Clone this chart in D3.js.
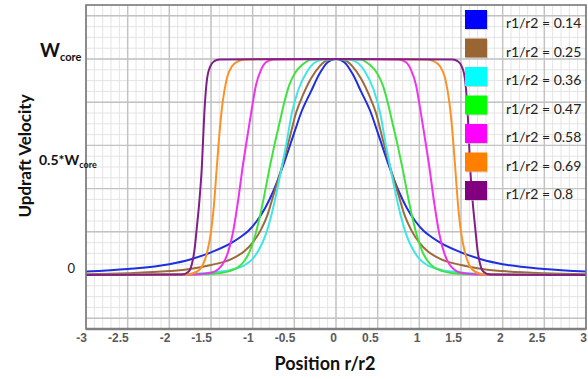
<!DOCTYPE html>
<html>
<head>
<meta charset="utf-8">
<script src="https://cdn.jsdelivr.net/npm/d3@7"></script>
<style>
  html, body { margin: 0; padding: 0; background: #fff; }
  svg { display: block; }
  .tick-label { font-family: 'Liberation Sans', Arial, sans-serif; font-weight: bold; font-size: 12px; fill: #5a5a5a; }
  .axis-title { font-family: Lato, 'Open Sans', sans-serif; font-weight: bold; fill: #111; }
  .legend-label { font-family: Lato, 'Open Sans', sans-serif; font-size: 14px; fill: #222; }
</style>
</head>
<body>
<div id="chart"></div>
<script>
// r1/r2 ratio of each profile
const ratios = [0.14, 0.25, 0.36, 0.47, 0.58, 0.69, 0.8];
const lineColours = ['#1f2fe0', '#9c6b3c', '#3fe6e6', '#3fe33f', '#ee33ee', '#fb9226', '#7f1f87'];
const swatchColours = ['#0000ff', '#996633', '#00ffff', '#00ff00', '#ff00ff', '#ff8000', '#800080'];
const xTicks = [-3, -2.5, -2, -1.5, -1, -0.5, 0, 0.5, 1, 1.5, 2, 2.5, 3];

// half profiles [r/r2, w/Wcore] (curves are symmetric about 0)
const profile014 = [[0, 1], [0.1, 0.985], [0.2, 0.93], [0.3, 0.85], [0.42, 0.75], [0.5, 0.66], [0.65, 0.49],
  [0.75, 0.39], [0.85, 0.31], [0.95, 0.25], [1.05, 0.205], [1.15, 0.175], [1.25, 0.15], [1.5, 0.105],
  [1.75, 0.072], [2, 0.05], [2.5, 0.028], [3, 0.016]];
const profile025 = [[0, 1], [0.1, 0.995], [0.2, 0.965], [0.3, 0.91], [0.4, 0.83], [0.48, 0.75], [0.56, 0.63],
  [0.65, 0.5], [0.75, 0.37], [0.83, 0.27], [0.9, 0.21], [1, 0.15], [1.1, 0.11], [1.25, 0.075], [1.5, 0.046],
  [1.75, 0.028], [2, 0.018], [2.5, 0.008], [3, 0.004]];
const profile036 = [[0, 1], [0.15, 0.998], [0.25, 0.985], [0.35, 0.94], [0.45, 0.86], [0.53, 0.75], [0.59, 0.62],
  [0.65, 0.5], [0.72, 0.37], [0.78, 0.27], [0.85, 0.18], [0.92, 0.12], [1, 0.075], [1.1, 0.045], [1.25, 0.025],
  [1.5, 0.012], [1.75, 0.005], [2, 0.002], [3, 0]];
const profile047 = [[0, 1], [0.3, 0.997], [0.4, 0.975], [0.5, 0.93], [0.56, 0.88], [0.62, 0.8], [0.68, 0.7],
  [0.74, 0.6], [0.8, 0.49], [0.86, 0.37], [0.92, 0.26], [0.98, 0.17], [1.04, 0.105], [1.1, 0.065], [1.18, 0.035],
  [1.28, 0.018], [1.4, 0.008], [1.6, 0.003], [2, 0.001], [3, 0]];
const profile058 = [[0, 1], [0.75, 0.998], [0.84, 0.985], [0.9, 0.95], [0.96, 0.88], [1.01, 0.77], [1.06, 0.65],
  [1.12, 0.5], [1.18, 0.33], [1.24, 0.19], [1.3, 0.1], [1.36, 0.05], [1.43, 0.022], [1.5, 0.01], [1.7, 0.002], [3, 0]];
const profile069 = [[0, 1], [1.1, 0.998], [1.17, 0.99], [1.25, 0.965], [1.31, 0.91], [1.36, 0.8], [1.4, 0.65],
  [1.43, 0.5], [1.47, 0.3], [1.5, 0.2], [1.55, 0.1], [1.6, 0.045], [1.67, 0.015], [1.8, 0.002], [3, 0]];
const profile080 = [[0, 1], [1.4, 0.998], [1.46, 0.99], [1.51, 0.965], [1.55, 0.9], [1.58, 0.75], [1.61, 0.5],
  [1.64, 0.34], [1.67, 0.22], [1.7, 0.11], [1.73, 0.05], [1.77, 0.015], [1.85, 0.002], [3, 0]];

const profiles = [profile014, profile025, profile036, profile047, profile058, profile069, profile080];

const width = 588;
const height = 379;
const margin = { top: 5, right: 2, bottom: 50, left: 86 };

class UpdraftChart {

  /**
   * @param {string} el container selector
   */
  constructor (el) {
    this.svg = d3.select(el).append('svg')
      .attr('width', width)
      .attr('height', height);
    this.x = d3.scaleLinear().domain([-3, 3]).range([margin.left, width - margin.right]);
    this.y = d3.scaleLinear().domain([-0.25, 1.25]).range([height - margin.bottom, margin.top]);
  }

  /**
   * Minor and major grid lines
   */
  drawGrid () {
    const { svg, x, y } = this;
    const [x0, x1] = x.range();
    const [y0, y1] = y.range();
    const g = svg.append('g').attr('class', 'grid');

    g.selectAll('.vminor').data(x.ticks(60)).join('line')
      .attr('x1', (d) => x(d)).attr('x2', (d) => x(d))
      .attr('y1', y0).attr('y2', y1)
      .attr('stroke', '#e4e4e4').attr('stroke-width', 1);
    g.selectAll('.hminor').data(y.ticks(30)).join('line')
      .attr('y1', (d) => y(d)).attr('y2', (d) => y(d))
      .attr('x1', x0).attr('x2', x1)
      .attr('stroke', '#e4e4e4').attr('stroke-width', 1);

    g.append('g').selectAll('line').data(xTicks).join('line')
      .attr('x1', (d) => x(d)).attr('x2', (d) => x(d))
      .attr('y1', y0).attr('y2', y1)
      .attr('stroke', '#c2c2c2').attr('stroke-width', 1.4);
    g.append('g').selectAll('line').data(y.ticks(6)).join('line')
      .attr('y1', (d) => y(d)).attr('y2', (d) => y(d))
      .attr('x1', x0).attr('x2', x1)
      .attr('stroke', '#c2c2c2').attr('stroke-width', 1.4);
  }

  /**
   * Frame, tick labels and titles
   */
  drawAxes () {
    const { svg, x, y } = this;
    const [x0, x1] = x.range();
    const [y0, y1] = y.range();

    svg.append('rect')
      .attr('x', x0).attr('y', y1)
      .attr('width', x1 - x0).attr('height', y0 - y1)
      .attr('fill', 'none').attr('stroke', '#7a7a7a').attr('stroke-width', 1.6);
    svg.append('line')
      .attr('x1', x0).attr('x2', x1).attr('y1', y0).attr('y2', y0)
      .attr('stroke', '#808080').attr('stroke-width', 2.6);

    svg.append('g').selectAll('text').data(xTicks).join('text')
      .attr('class', 'tick-label')
      .attr('x', (d) => x(d) + 1)
      .attr('y', y0 + 13)
      .attr('text-anchor', 'end')
      .text((d) => d);

    // y labels
    const wcore = svg.append('text').attr('class', 'axis-title')
      .attr('x', 40).attr('y', y(1) - 2).style('font-size', '19px');
    wcore.append('tspan').text('W');
    wcore.append('tspan').attr('dy', 4).style('font-size', '11px').text('core');

    const half = svg.append('text').attr('class', 'axis-title')
      .attr('x', 39).attr('y', y(0.5) - 2).style('font-size', '14px');
    half.append('tspan').text('0.5*W');
    half.append('tspan').attr('dy', 3).style('font-size', '9px').text('core');

    svg.append('text')
      .attr('x', 75).attr('y', y(0) - 2)
      .attr('text-anchor', 'end')
      .style('font-family', 'Lato, sans-serif').style('font-size', '13px').style('fill', '#222')
      .text('0');

    svg.append('text').attr('class', 'axis-title')
      .attr('x', 325).attr('y', 370)
      .attr('text-anchor', 'middle')
      .style('font-size', '18px')
      .text('Position r/r2');

    svg.append('text').attr('class', 'axis-title')
      .attr('transform', 'translate(31,156) rotate(-90)')
      .attr('text-anchor', 'middle')
      .style('font-size', '17px')
      .text('Updraft Velocity');
  }

  /**
   * One line per r1/r2 ratio
   */
  drawCurves () {
    const { svg, x, y } = this;
    const line = d3.line()
      .x((d) => x(d[0]))
      .y((d) => y(d[1]))
      .curve(d3.curveMonotoneX);

    const full = (half) => half.slice(1).map(([r, w]) => [-r, w]).reverse().concat(half);

    svg.append('g').selectAll('path').data(profiles).join('path')
      .attr('d', (d) => line(full(d)))
      .attr('fill', 'none')
      .attr('stroke', (d, i) => lineColours[i])
      .attr('stroke-width', 2);
  }

  /**
   * Legend boxes on the right
   */
  drawLegend () {
    const rowY = d3.scaleLinear().domain([0, ratios.length - 1]).range([10, 181]);
    const g = this.svg.append('g').attr('class', 'legend');
    const rows = g.selectAll('g').data(ratios).join('g')
      .attr('transform', (d, i) => `translate(465,${rowY(i)})`);

    rows.append('rect')
      .attr('x', 1).attr('y', 1).attr('width', 22).attr('height', 19)
      .attr('fill', '#bbb').attr('opacity', 0.6);
    rows.append('rect')
      .attr('width', 22).attr('height', 19)
      .attr('fill', (d, i) => swatchColours[i]);
    rows.append('text')
      .attr('class', 'legend-label')
      .attr('x', 41).attr('y', 18)
      .text((d) => `r1/r2 = ${d}`);
  }

  render () {
    this.drawGrid();
    this.drawCurves();
    this.drawAxes();
    this.drawLegend();
  }
}

new UpdraftChart('#chart').render();
</script>
</body>
</html>
